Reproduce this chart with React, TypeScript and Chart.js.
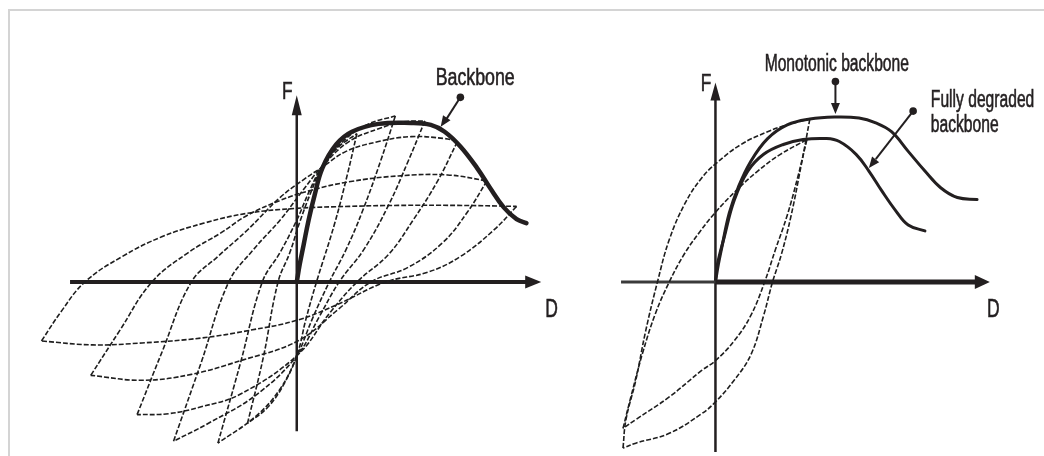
import React, { useEffect, useRef } from "react";
import { Chart, registerables } from "chart.js";

Chart.register(...registerables);

type P = { x: number; y: number };
const pts = (a: number[][]): P[] => a.map(([x, y]) => ({ x, y }));

const INK = "#231f20";

// ---------- Left panel: pinched cyclic loops and their backbone (D, F relative to origin) ----------
const backboneLeft = pts([[0,0],[3,18],[7,38],[12,63],[18,88],[26,116],[40,140],[56,153],[83,161],[116,162],[136,160],[150,153],[166,138],[183,116],[196,96],[210,76],[223,64],[233,60]]);

// reloading branches (negative peak -> positive peak)
const cycle1Up = pts([[-259,-60],[-239,-30],[-215,0],[-177,26],[-137,46],[-94,60],[-50,70],[0,75],[53,77],[103,78],[163,78],[223,77]]);
const cycle2Up = pts([[-209,-95],[-180,-50],[-147,0],[-110,30],[-77,50],[-50,68],[-17,83],[13,93],[53,102],[103,108],[153,109],[193,103]]);
const cycle3Up = pts([[-162,-135],[-137,-72],[-107,0],[-80,26],[-50,53],[-17,86],[8,105],[26,117],[50,133],[83,143],[116,148],[150,146],[163,143]]);
const cycle4Up = pts([[-125,-162],[-97,-82],[-69,0],[-44,33],[-17,63],[6,93],[26,118],[53,143],[83,156],[108,163],[130,164]]);
const cycle5Up = pts([[-80,-164],[-57,-82],[-35,0],[-17,30],[0,63],[13,93],[26,118],[50,146],[73,161],[100,169]]);
const cycle6Up = pts([[-50,-144],[-34,-77],[-19,0],[-7,30],[3,61],[15,93],[26,118],[43,138],[61,151]]);

// unloading branches (positive peak -> negative peak)
const cycle1Down = pts([[223,77],[200,53],[166,26],[133,10],[90,0],[43,-22],[0,-39],[-47,-49],[-97,-57],[-157,-62],[-207,-64],[-259,-60]]);
const cycle2Down = pts([[193,103],[173,71],[148,40],[113,15],[75,0],[43,-27],[1,-60],[-57,-80],[-107,-94],[-157,-100],[-209,-95]]);
const cycle3Down = pts([[163,143],[143,103],[118,63],[93,28],[61,0],[33,-32],[1,-74],[-57,-114],[-97,-127],[-130,-134],[-162,-135]]);
const cycle4Down = pts([[130,164],[113,123],[93,78],[68,33],[43,0],[23,-35],[1,-74],[-40,-114],[-90,-144],[-125,-162]]);
const cycle5Down = pts([[100,169],[85,123],[67,73],[50,33],[33,0],[16,-37],[1,-74],[-17,-109],[-42,-137],[-80,-164]]);
const cycle6Down = pts([[61,151],[51,108],[38,58],[20,0],[9,-39],[1,-72],[-12,-102],[-29,-127],[-50,-144]]);

// ---------- Right panel: monotonic vs. fully degraded backbone ----------
const monotonicBackbone = pts([[0,0],[3,18],[6,33],[14,70],[23,96],[36,123],[53,146],[73,160],[96,166],[121,168],[146,167],[163,162],[179,153],[196,133],[213,113],[229,96],[246,86],[266,84]]);
const degradedBackbone = pts([[0,0],[2,18],[9,46],[19,83],[33,113],[49,130],[69,140],[89,145],[113,146],[126,143],[143,130],[156,113],[169,93],[183,73],[196,58],[213,52]]);

const outerLoopUp = pts([[-94,-169],[-91,-140],[-81,-100],[-71,-50],[-59,0],[-47,43],[-31,80],[-14,106],[1,121],[26,140],[53,153],[73,160],[96,166]]);
const outerLoopDown = pts([[96,166],[87,118],[77,68],[67,28],[58,0],[49,-34],[36,-74],[19,-100],[0,-122],[-14,-134],[-47,-154],[-81,-164],[-94,-169]]);
const innerLoopUp = pts([[-94,-149],[-86,-117],[-74,-72],[-61,-32],[-47,0],[-32,28],[-16,51],[0,71],[21,93],[43,113],[66,130],[93,145]]);
const innerLoopDown = pts([[93,145],[84,108],[73,68],[61,33],[50,0],[36,-34],[19,-60],[0,-80],[-14,-90],[-47,-117],[-81,-140],[-94,-149]]);

// ---------- Text ----------
type Label = { text: string; x: number; y: number; size: number; sx: number };
const leftLabels: Label[] = [
  { text: "Backbone", x: 141, y: 201, size: 24, sx: 0.74 },
  { text: "F", x: -15, y: 186, size: 24, sx: 0.72 },
  { text: "D", x: 252, y: -36, size: 25, sx: 0.7 },
];
const rightLabels: Label[] = [
  { text: "Monotonic backbone", x: 50, y: 215, size: 23, sx: 0.68 },
  { text: "Fully degraded", x: 219, y: 178, size: 23, sx: 0.68 },
  { text: "backbone", x: 219, y: 153, size: 23, sx: 0.68 },
  { text: "F", x: -15, y: 194, size: 24, sx: 0.72 },
  { text: "D", x: 276, y: -36, size: 25, sx: 0.7 },
];

type Arrow = { from: P; tip: P; len: number; half: number };

const dashed = (data: P[]) => ({
  data, borderColor: "#1e1e1e", borderWidth: 1.6, borderDash: [5, 2],
  pointRadius: 0, tension: 0.4, fill: false,
});
const solid = (data: P[], w: number) => ({
  data, borderColor: INK, borderWidth: w, pointRadius: 0, tension: 0.4,
  fill: false, borderCapStyle: "round",
});
const straight = (data: P[], w: number, color = INK) => ({
  data, borderColor: color, borderWidth: w, pointRadius: 0, tension: 0, fill: false,
});
const leader = (data: P[]) => ({
  data, borderColor: INK, borderWidth: 2, tension: 0,
  pointRadius: [3.8, 0], pointBackgroundColor: INK, pointBorderWidth: 0, fill: false,
});

const overlay = (labels: Label[], arrows: Arrow[]) => ({
  id: "overlay",
  afterDatasetsDraw(chart: any) {
    const ctx = chart.ctx as CanvasRenderingContext2D;
    const xs = chart.scales.x;
    const ys = chart.scales.y;
    ctx.save();
    ctx.fillStyle = INK;
    for (const a of arrows) {
      const fx = xs.getPixelForValue(a.from.x), fy = ys.getPixelForValue(a.from.y);
      const tx = xs.getPixelForValue(a.tip.x), ty = ys.getPixelForValue(a.tip.y);
      const ang = Math.atan2(ty - fy, tx - fx);
      const bx = tx - a.len * Math.cos(ang), by = ty - a.len * Math.sin(ang);
      const nx = -Math.sin(ang) * a.half, ny = Math.cos(ang) * a.half;
      ctx.beginPath();
      ctx.moveTo(tx, ty);
      ctx.lineTo(bx + nx, by + ny);
      ctx.lineTo(bx - nx, by - ny);
      ctx.closePath();
      ctx.fill();
    }
    for (const l of labels) {
      ctx.save();
      ctx.font = `${l.size}px "Liberation Sans", Arial, sans-serif`;
      ctx.textBaseline = "alphabetic";
      ctx.strokeStyle = INK;
      ctx.lineWidth = 0.6;
      ctx.translate(xs.getPixelForValue(l.x), ys.getPixelForValue(l.y));
      ctx.scale(l.sx, 1);
      ctx.fillText(l.text, 0, 0);
      ctx.strokeText(l.text, 0, 0);
      ctx.restore();
    }
    ctx.restore();
  },
});

function Panel(props: {
  left: number; width: number; xMin: number; xMax: number;
  datasets: any[]; labels: Label[]; arrows: Arrow[];
}) {
  const ref = useRef<HTMLCanvasElement>(null);
  useEffect(() => {
    if (!ref.current) return;
    const chart = new Chart(ref.current, {
      type: "line",
      data: { datasets: props.datasets },
      options: {
        animation: false,
        responsive: false,
        maintainAspectRatio: false,
        events: [],
        layout: { padding: 0 },
        plugins: { legend: { display: false }, tooltip: { enabled: false } },
        scales: {
          x: { type: "linear", min: props.xMin, max: props.xMax, display: false },
          y: { type: "linear", min: -173, max: 283, display: false },
        },
      },
      plugins: [overlay(props.labels, props.arrows)],
    } as any);
    return () => chart.destroy();
  }, []);
  return (
    <canvas
      ref={ref}
      width={props.width}
      height={456}
      style={{ position: "absolute", left: props.left, top: 0, width: props.width, height: 456 }}
    />
  );
}

export default function App() {
  const leftDatasets = [
    dashed(cycle1Up), dashed(cycle1Down),
    dashed(cycle2Up), dashed(cycle2Down),
    dashed(cycle3Up), dashed(cycle3Down),
    dashed(cycle4Up), dashed(cycle4Down),
    dashed(cycle5Up), dashed(cycle5Down),
    dashed(cycle6Up), dashed(cycle6Down),
    straight(pts([[-230, 0], [233, 0]]), 4),
    straight(pts([[0, -152], [0, 172]]), 2.5),
    solid(backboneLeft, 4.5),
    leader(pts([[166, 188], [150, 163]])),
  ];
  const leftArrows: Arrow[] = [
    { from: { x: 0, y: 0 }, tip: { x: 248, y: 0 }, len: 16, half: 6.5 },
    { from: { x: 0, y: 0 }, tip: { x: 0, y: 190 }, len: 20, half: 5 },
    { from: { x: 166, y: 188 }, tip: { x: 146, y: 158 }, len: 11, half: 4.5 },
  ];

  const rightDatasets = [
    dashed(outerLoopUp), dashed(outerLoopDown),
    dashed(innerLoopUp), dashed(innerLoopDown),
    straight(pts([[-96, 0], [0, 0]]), 3, "#3a3a3a"),
    straight(pts([[0, 0], [265, 0]]), 5),
    straight(pts([[0, -175], [0, 186]]), 2.5),
    solid(monotonicBackbone, 3),
    solid(degradedBackbone, 3),
    leader(pts([[122, 204], [122, 181]])),
    leader(pts([[201, 174], [163, 125]])),
  ];
  const rightArrows: Arrow[] = [
    { from: { x: 0, y: 0 }, tip: { x: 279, y: 0 }, len: 15, half: 7 },
    { from: { x: 0, y: 0 }, tip: { x: 0, y: 203 }, len: 18, half: 5 },
    { from: { x: 122, y: 204 }, tip: { x: 122, y: 171 }, len: 11, half: 4.5 },
    { from: { x: 201, y: 174 }, tip: { x: 156, y: 116 }, len: 11, half: 4.5 },
  ];

  return (
    <div style={{ position: "fixed", left: 0, top: 0, width: 1044, height: 456, overflow: "hidden", background: "#fff" }}>
      <div
        style={{
          position: "absolute", left: 8, top: 9, width: 1036, height: 447,
          borderTop: "2px solid #d4d4d4", borderLeft: "2px solid #d4d4d4", boxSizing: "border-box",
        }}
      />
      <Panel left={0} width={560} xMin={-297} xMax={263} datasets={leftDatasets} labels={leftLabels} arrows={leftArrows} />
      <Panel left={560} width={484} xMin={-154} xMax={330} datasets={rightDatasets} labels={rightLabels} arrows={rightArrows} />
    </div>
  );
}
